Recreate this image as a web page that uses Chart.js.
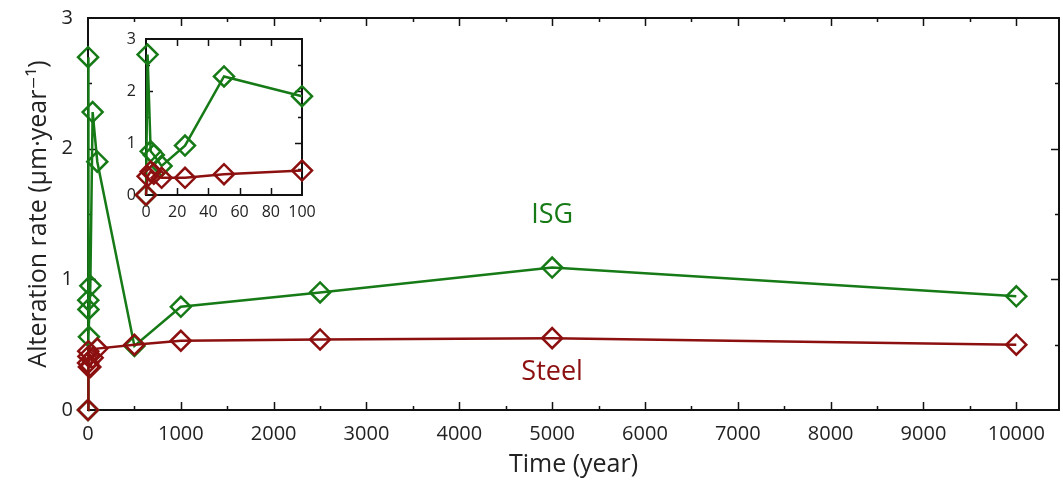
<!DOCTYPE html>
<html>
<head>
<meta charset="utf-8">
<script src="https://cdn.jsdelivr.net/npm/chart.js@4.4.1/dist/chart.umd.min.js"></script>
<style>
  html, body { margin: 0; padding: 0; background: #ffffff; }
  #wrap { position: relative; width: 1063px; height: 486px; }
  #mainCanvas { position: absolute; left: 0; top: 0; }
  #insetCanvas { position: absolute; left: 96px; top: 30px; }
</style>
</head>
<body>
<div id="wrap">
  <canvas id="mainCanvas" width="1063" height="486"></canvas>
  <canvas id="insetCanvas" width="222" height="200"></canvas>
</div>
<script>
// Sampling times (years) shared by both materials
const times = [0, 1, 3, 5, 10, 25, 50, 100, 500, 1000, 2500, 5000, 10000];
// Alteration rate, µm per year
const isgRate   = [0, 2.70, 0.84, 0.77, 0.56, 0.95, 2.28, 1.90, 0.49, 0.79, 0.90, 1.09, 0.87];
const steelRate = [0, 0.36, 0.45, 0.41, 0.33, 0.33, 0.40, 0.47, 0.50, 0.53, 0.54, 0.55, 0.50];

// Axis ticks
const mainXTicks  = [0, 1000, 2000, 3000, 4000, 5000, 6000, 7000, 8000, 9000, 10000];
const mainYTicks  = [0, 1, 2, 3];
const insetXTicks = [0, 20, 40, 60, 80, 100];
const insetYTicks = [0, 1, 2, 3];

// Inset covers the first century
const insetMaxTime = 100;

const GREEN = '#167a16';
const RED   = '#8c1010';
const INK   = '#222222';
const FONT  = "'Open Sans', 'DejaVu Sans', sans-serif";

function points(ts, vs, maxT) {
  const out = [];
  ts.forEach((t, i) => { if (maxT === undefined || t <= maxT) out.push({ x: t, y: vs[i] }); });
  return out;
}

function series(label, color, data, radius) {
  return {
    label, data,
    borderColor: color,
    borderWidth: 2.5,
    pointStyle: 'rectRot',
    pointRadius: radius,
    pointBorderWidth: 2.5,
    pointBorderColor: color,
    pointBackgroundColor: 'rgba(0,0,0,0)',
    tension: 0,
    clip: false
  };
}

// Box frame plus gnuplot-style inward ticks on all four sides
const frameTicks = {
  id: 'frameTicks',
  beforeDatasetsDraw(chart, args, o) {
    const { ctx, chartArea: a, scales: { x, y } } = chart;
    ctx.save();
    ctx.strokeStyle = '#111111';
    ctx.lineWidth = o.frameWidth;
    ctx.strokeRect(a.left, a.top, a.right - a.left, a.bottom - a.top);
    ctx.lineWidth = o.tickWidth;
    const vals = (scale, minor) => {
      const v = scale.ticks.map(t => t.value);
      const out = v.map(val => [val, o.major]);
      if (minor) {
        for (let i = 0; i < v.length; i++) {
          const step = i + 1 < v.length ? v[i + 1] - v[i] : v[i] - v[i - 1];
          out.push([v[i] + step / 2, o.minor]);
        }
      }
      return out.filter(([val]) => val >= scale.min && val <= scale.max);
    };
    ctx.beginPath();
    vals(x, o.minorX).forEach(([val, len]) => {
      const px = Math.round(x.getPixelForValue(val)) + 0.5;
      if (px <= a.left + 1 || px >= a.right - 1) return;
      ctx.moveTo(px, a.bottom); ctx.lineTo(px, a.bottom - len);
      ctx.moveTo(px, a.top);    ctx.lineTo(px, a.top + len);
    });
    vals(y, o.minorY).forEach(([val, len]) => {
      const py = Math.round(y.getPixelForValue(val)) + 0.5;
      if (py <= a.top + 1 || py >= a.bottom - 1) return;
      ctx.moveTo(a.left, py);  ctx.lineTo(a.left + len, py);
      ctx.moveTo(a.right, py); ctx.lineTo(a.right - len, py);
    });
    ctx.stroke();
    ctx.restore();
  }
};

// Curve names written next to their lines
const curveNames = {
  id: 'curveNames',
  afterDatasetsDraw(chart, args, o) {
    if (!o.items) return;
    const { ctx, scales: { x, y } } = chart;
    ctx.save();
    ctx.font = o.font;
    ctx.textAlign = 'center';
    ctx.textBaseline = 'middle';
    o.items.forEach(it => {
      ctx.fillStyle = it.color;
      ctx.fillText(it.text, x.getPixelForValue(it.x), y.getPixelForValue(it.y));
    });
    ctx.restore();
  }
};

function tickList(values) {
  return scale => { scale.ticks = values.map(v => ({ value: v })); };
}
// Fixed axis box sizes; the plot edges are set by the layout padding alone
function fixHeight(h) {
  return s => { s.height = h; s.paddingLeft = 0; s.paddingRight = 0; s.paddingTop = 0; s.paddingBottom = 0; };
}
function fixWidth(w) {
  return s => { s.width = w; s.paddingLeft = 0; s.paddingRight = 0; s.paddingTop = 0; s.paddingBottom = 0; };
}
const plain = v => String(v);

// Main chart
new Chart(document.getElementById('mainCanvas'), {
  type: 'line',
  data: {
    datasets: [
      series('Steel', RED, points(times, steelRate), 10),
      series('ISG', GREEN, points(times, isgRate), 10)
    ]
  },
  options: {
    responsive: false,
    animation: false,
    devicePixelRatio: 1,
    layout: { autoPadding: false, padding: { top: 18, right: 4, left: 0, bottom: 0 } },
    plugins: {
      legend: { display: false },
      tooltip: { enabled: false },
      frameTicks: { frameWidth: 2, tickWidth: 1.5, major: 8, minor: 4, minorX: true, minorY: true },
      curveNames: {
        font: "27px " + FONT,
        items: [
          { text: 'ISG', x: 5000, y: 1.49, color: GREEN },
          { text: 'Steel', x: 5000, y: 0.29, color: RED }
        ]
      }
    },
    scales: {
      x: {
        type: 'linear', min: 0, max: 10460,
        afterBuildTicks: tickList(mainXTicks),
        afterFit: fixHeight(76),
        grid: { display: false, drawTicks: false },
        border: { display: false },
        ticks: { color: INK, font: { family: FONT, size: 20 }, padding: 12, maxRotation: 0, autoSkip: false, callback: plain },
        title: { display: true, text: 'Time (year)', color: INK, font: { family: FONT, size: 25 }, padding: { top: 0, bottom: 6 } }
      },
      y: {
        type: 'linear', min: 0, max: 3,
        afterBuildTicks: tickList(mainYTicks),
        afterFit: fixWidth(88),
        grid: { display: false, drawTicks: false },
        border: { display: false },
        ticks: { color: INK, font: { family: FONT, size: 20 }, padding: 15, callback: plain },
        title: { display: true, text: 'Alteration rate (μm·year⁻¹)', color: INK, font: { family: FONT, size: 25 }, padding: { top: 24, bottom: 0 } }
      }
    }
  },
  plugins: [frameTicks, curveNames]
});

// Inset: first hundred years
new Chart(document.getElementById('insetCanvas'), {
  type: 'line',
  data: {
    datasets: [
      series('Steel', RED, points(times, steelRate, insetMaxTime), 10),
      series('ISG', GREEN, points(times, isgRate, insetMaxTime), 10)
    ]
  },
  options: {
    responsive: false,
    animation: false,
    devicePixelRatio: 1,
    layout: { autoPadding: false, padding: { top: 9, right: 16, left: 0, bottom: 0 } },
    plugins: {
      legend: { display: false },
      tooltip: { enabled: false },
      frameTicks: { frameWidth: 2, tickWidth: 1.5, major: 7, minor: 4, minorX: false, minorY: true },
      curveNames: {}
    },
    scales: {
      x: {
        type: 'linear', min: 0, max: insetMaxTime,
        afterBuildTicks: tickList(insetXTicks),
        afterFit: fixHeight(35),
        grid: { display: false, drawTicks: false },
        border: { display: false },
        ticks: { color: INK, font: { family: FONT, size: 16 }, padding: 8, maxRotation: 0, autoSkip: false, callback: plain }
      },
      y: {
        type: 'linear', min: 0, max: 3,
        afterBuildTicks: tickList(insetYTicks),
        afterFit: fixWidth(50),
        grid: { display: false, drawTicks: false },
        border: { display: false },
        ticks: { color: INK, font: { family: FONT, size: 16 }, padding: 10, callback: plain }
      }
    }
  },
  plugins: [frameTicks, curveNames]
});
</script>
</body>
</html>
